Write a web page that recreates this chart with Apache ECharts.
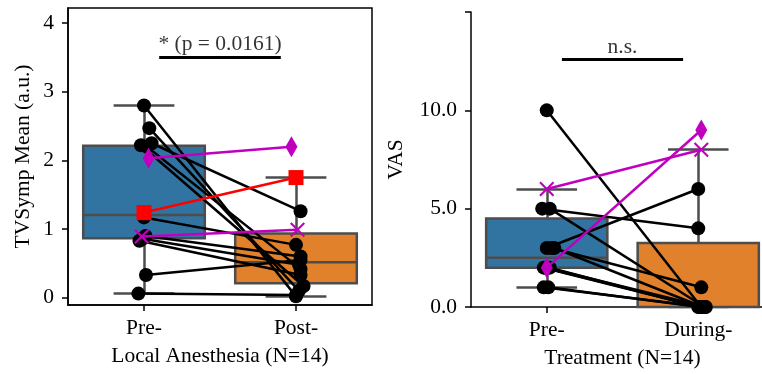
<!DOCTYPE html>
<html>
<head>
<meta charset="utf-8">
<script src="https://cdn.jsdelivr.net/npm/echarts@6/dist/echarts.min.js"></script>
<style>
html, body { margin: 0; padding: 0; background: #fff; }
#chart { width: 762px; height: 374px; }
</style>
</head>
<body>
<div id="chart"></div>
<script>
// left panel: TVSymp mean before / after local anesthesia
const leftCats = ['Pre-', 'Post-']
const leftPre = [2.80, 2.47, 2.25, 2.22, 2.20, 1.17, 0.90, 0.86, 0.83, 0.33, 0.06]
const leftPost = [0.02, 0.10, 1.26, 0.17, 0.42, 0.77, 0.60, 0.48, 0.33, 0.55, 0.04]
const leftPreJitter = [0, 0.035, 0.05, -0.02, 0.02, 0, 0.01, -0.01, -0.03, 0.013, -0.037]
const leftPostJitter = [0, 0.02, 0.03, 0.05, 0.03, 0, 0.03, 0.02, 0.03, 0.03, 0]
// highlighted subjects: [pre, post]
const leftDiamond = [2.03, 2.20]
const leftSquare = [1.24, 1.75]
const leftCross = [0.89, 0.99]
const leftYTicks = [0, 1, 2, 3, 4]
const leftSig = '* (p = 0.0161)'

// right panel: VAS before / during treatment
const rightCats = ['Pre-', 'During-']
const rightPre = [10, 5, 5, 3, 3, 3, 2, 2, 2, 2, 1, 1]
const rightPost = [0, 4, 0, 6, 1, 0, 0, 0, 0, 0, 0, 0]
const rightPreJitter = [0, -0.03, 0.02, 0, 0.03, 0.05, -0.02, 0, 0.02, -0.01, -0.02, 0.01]
const rightPostJitter = [0.02, 0, 0.04, 0, 0.02, 0.03, 0.01, 0.05, 0, 0.02, 0.04, 0.01]
const rightDiamond = [2, 9]
const rightCross = [6, 8]
const rightYTicks = [0, 5, 10, 15]
const rightSig = 'n.s.'

const FONT = 'Liberation Serif'
const FS = 21.5
const boxColors = ['#3274a1', '#e1812c']
const edge = '#4d4d4d'
const magenta = '#bf00bf'
const crossPath = 'path://M0,1L1,0L5,4L9,0L10,1L6,5L10,9L9,10L5,6L1,10L0,9L4,5Z'

function quant(s, p) {
  const pos = (s.length - 1) * p
  const lo = Math.floor(pos)
  const hi = Math.ceil(pos)
  return s[lo] + (s[hi] - s[lo]) * (pos - lo)
}

function boxStats(vals) {
  const s = vals.slice().sort((a, b) => a - b)
  const q1 = quant(s, 0.25)
  const med = quant(s, 0.5)
  const q3 = quant(s, 0.75)
  const iqr = q3 - q1
  const lo = s.find(v => v >= q1 - 1.5 * iqr)
  const hi = s.filter(v => v <= q3 + 1.5 * iqr).pop()
  return [lo, q1, med, q3, hi]
}

function panelSeries(g, pre, post, preJit, postJit, specials, sig) {
  const catX = g * 2
  const valX = g * 2 + 1
  const allPre = pre.concat(specials.map(s => s.vals[0]))
  const allPost = post.concat(specials.map(s => s.vals[1]))
  const stats = [boxStats(allPre), boxStats(allPost)]
  const series = []

  series.push({
    type: 'boxplot',
    xAxisIndex: catX,
    yAxisIndex: g,
    boxWidth: ['80%', '80%'],
    z: 1,
    data: stats.map((b, i) => ({
      value: [b[1], b[1], b[2], b[3], b[3]],
      itemStyle: { color: boxColors[i], borderColor: edge, borderWidth: 2.5 }
    }))
  })

  // whiskers and caps
  const whisk = []
  stats.forEach((b, i) => {
    whisk.push({ coords: [[i, b[3]], [i, b[4]]] })
    whisk.push({ coords: [[i, b[1]], [i, b[0]]] })
    whisk.push({ coords: [[i - 0.2, b[4]], [i + 0.2, b[4]]] })
    whisk.push({ coords: [[i - 0.2, b[0]], [i + 0.2, b[0]]] })
  })
  series.push({
    type: 'lines',
    coordinateSystem: 'cartesian2d',
    xAxisIndex: valX,
    yAxisIndex: g,
    z: 2,
    lineStyle: { color: edge, width: 2.5, opacity: 1 },
    data: whisk
  })

  // paired subject lines
  series.push({
    type: 'lines',
    coordinateSystem: 'cartesian2d',
    xAxisIndex: valX,
    yAxisIndex: g,
    z: 3,
    lineStyle: { color: '#000', width: 2.5, opacity: 1 },
    data: pre.map((v, i) => ({ coords: [[preJit[i], v], [1 + postJit[i], post[i]]] }))
  })
  series.push({
    type: 'scatter',
    xAxisIndex: valX,
    yAxisIndex: g,
    z: 4,
    symbolSize: 14,
    itemStyle: { color: '#000', opacity: 1 },
    data: pre.map((v, i) => [preJit[i], v]).concat(post.map((v, i) => [1 + postJit[i], v]))
  })

  specials.forEach(s => {
    series.push({
      type: 'line',
      xAxisIndex: valX,
      yAxisIndex: g,
      z: 5,
      symbol: s.symbol,
      symbolSize: s.size,
      showAllSymbol: true,
      color: s.color,
      lineStyle: { color: s.color, width: 2.5 },
      itemStyle: { color: s.color, opacity: 1 },
      data: [[s.jit[0], s.vals[0]], [1 + s.jit[1], s.vals[1]]]
    })
  })

  // significance bar
  series.push({
    type: 'lines',
    coordinateSystem: 'cartesian2d',
    xAxisIndex: valX,
    yAxisIndex: g,
    z: 6,
    lineStyle: { color: '#000', width: 3, opacity: 1 },
    data: [{ coords: [[0.1, sig.y], [0.9, sig.y]] }]
  })
  series.push({
    type: 'scatter',
    xAxisIndex: valX,
    yAxisIndex: g,
    z: 6,
    symbolSize: 0,
    label: {
      show: true,
      position: 'top',
      distance: sig.dist,
      formatter: sig.text,
      color: '#000',
      fontFamily: FONT,
      fontSize: FS
    },
    data: [[0.5, sig.y]]
  })
  return series
}

const tick = { show: true, length: 6, lineStyle: { color: '#000', width: 1.5 } }
const line = { show: true, onZero: false, lineStyle: { color: '#000', width: 1.5 } }
const label = { color: '#000', fontFamily: FONT, fontSize: FS }

const chart = echarts.init(document.getElementById('chart'), null, { renderer: 'canvas' })

chart.setOption({
  animation: false,
  backgroundColor: '#fff',
  grid: [
    {
      left: 68, right: 390, top: 8, bottom: 69, outerBoundsMode: 'none',
      show: true, borderColor: '#000', borderWidth: 1.5, backgroundColor: 'transparent'
    },
    // right panel runs past the canvas edge, as in the original figure
    { left: 471, width: 303, top: 12, bottom: 67, outerBoundsMode: 'none' }
  ],
  xAxis: [
    {
      type: 'category', gridIndex: 0, data: leftCats, boundaryGap: true,
      axisLine: line, axisTick: Object.assign({ alignWithLabel: true }, tick),
      axisLabel: Object.assign({ margin: 12 }, label),
      name: 'Local Anesthesia (N=14)', nameLocation: 'middle', nameGap: 40, nameTextStyle: label
    },
    { type: 'value', gridIndex: 0, min: -0.5, max: 1.5, show: false },
    {
      type: 'category', gridIndex: 1, data: rightCats, boundaryGap: true,
      axisLine: line, axisTick: Object.assign({ alignWithLabel: true }, tick),
      axisLabel: Object.assign({ margin: 12 }, label),
      name: 'Treatment (N=14)', nameLocation: 'middle', nameGap: 40, nameTextStyle: label
    },
    { type: 'value', gridIndex: 1, min: -0.5, max: 1.5, show: false }
  ],
  yAxis: [
    {
      type: 'value', gridIndex: 0, min: -0.106, max: 4.22,
      axisLine: line,
      axisTick: Object.assign({ customValues: leftYTicks }, tick),
      axisLabel: Object.assign({ customValues: leftYTicks, margin: 14 }, label),
      splitLine: { show: false },
      name: 'TVSymp Mean (a.u.)', nameLocation: 'middle', nameGap: 34, nameTextStyle: label
    },
    {
      type: 'value', gridIndex: 1, min: 0, max: 15,
      axisLine: line,
      axisTick: Object.assign({ customValues: rightYTicks }, tick),
      axisLabel: Object.assign({
        customValues: rightYTicks, margin: 14,
        formatter: v => (v === 15 ? '' : v.toFixed(1))
      }, label),
      splitLine: { show: false },
      name: 'VAS', nameLocation: 'middle', nameGap: 64, nameTextStyle: label
    }
  ],
  series: panelSeries(0, leftPre, leftPost, leftPreJitter, leftPostJitter, [
    { vals: leftDiamond, jit: [0.03, -0.03], symbol: 'diamond', size: [12, 21], color: magenta },
    { vals: leftSquare, jit: [0, 0], symbol: 'rect', size: 15, color: '#ff0000' },
    { vals: leftCross, jit: [-0.015, 0.01], symbol: crossPath, size: 15, color: magenta }
  ], { y: 3.5, text: leftSig, dist: 2 }).concat(
    panelSeries(1, rightPre, rightPost, rightPreJitter, rightPostJitter, [
      { vals: rightDiamond, jit: [0, 0.02], symbol: 'diamond', size: [12, 21], color: magenta },
      { vals: rightCross, jit: [0, 0.02], symbol: crossPath, size: 15, color: magenta }
    ], { y: 12.6, text: rightSig, dist: 1 })
  )
})
</script>
</body>
</html>
